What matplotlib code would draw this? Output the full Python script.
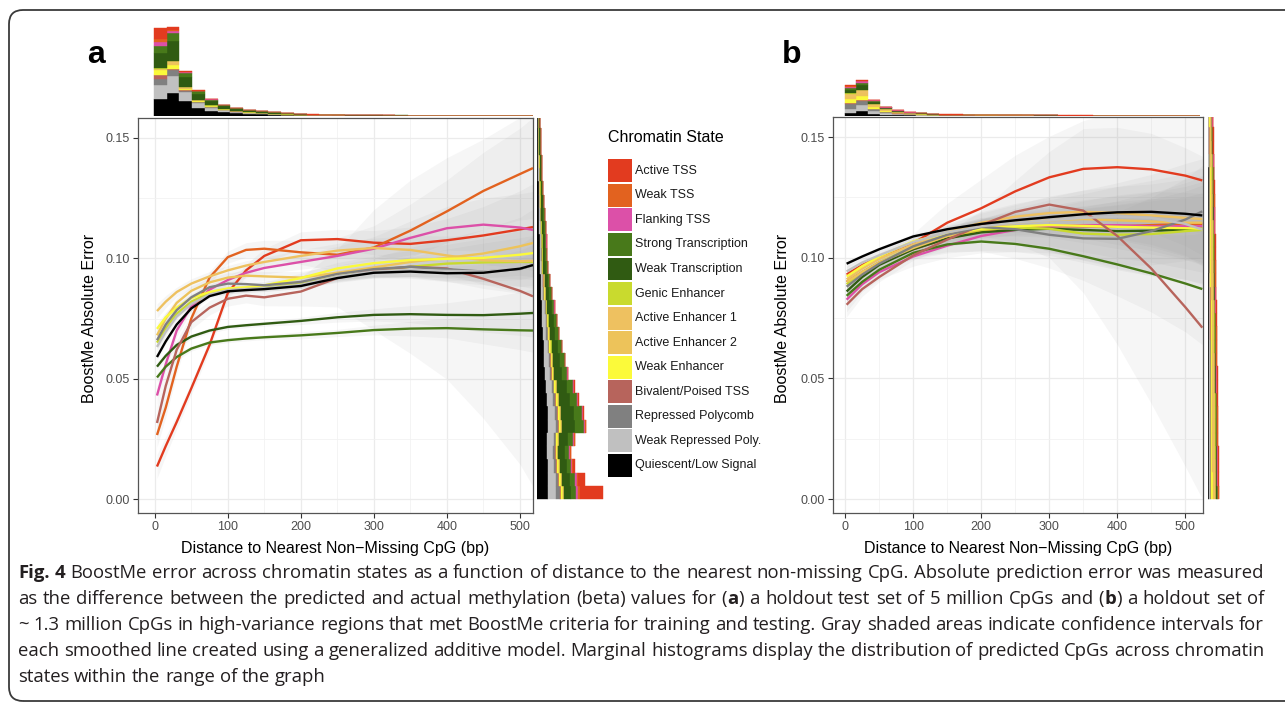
import re
import numpy as np
import matplotlib
matplotlib.use("Agg")
import matplotlib.pyplot as plt
from matplotlib.patches import Rectangle, FancyBboxPatch
from matplotlib.transforms import IdentityTransform
from matplotlib.ticker import FormatStrFormatter

plt.rcParams['font.family'] = ['Liberation Sans', 'DejaVu Sans']

W, H = 1285, 708

# chromatin states, legend order
states = ["Active TSS", "Weak TSS", "Flanking TSS", "Strong Transcription",
          "Weak Transcription", "Genic Enhancer", "Active Enhancer 1",
          "Active Enhancer 2", "Weak Enhancer", "Bivalent/Poised TSS",
          "Repressed Polycomb", "Weak Repressed Poly.", "Quiescent/Low Signal"]
state_colors = ["#E23B1F", "#E2621F", "#DC50A8", "#48791A", "#305B12", "#C9DA2E",
                "#EEC160", "#EDC35A", "#FBFA3A", "#B7645C", "#808080", "#C0C0C0",
                "#000000"]

# ---- panel a: smoothed error curves (rows in legend order) ----
dist_a = [3, 15, 30, 50, 75, 100, 125, 150, 200, 250, 300, 350, 400, 450, 500, 518]
err_a = np.array([
    [0.0135, 0.022, 0.032, 0.046, 0.064, 0.0856, 0.095, 0.101, 0.1075, 0.108, 0.1065, 0.106, 0.1075, 0.1095, 0.112, 0.113],
    [0.0266, 0.038, 0.055, 0.075, 0.092, 0.1005, 0.1035, 0.104, 0.1025, 0.1015, 0.1045, 0.1115, 0.1195, 0.128, 0.135, 0.1375],
    [0.043, 0.056, 0.070, 0.080, 0.087, 0.091, 0.094, 0.096, 0.0985, 0.101, 0.104, 0.1085, 0.1125, 0.114, 0.1128, 0.1118],
    [0.0505, 0.055, 0.059, 0.0625, 0.065, 0.066, 0.0667, 0.0672, 0.068, 0.069, 0.0702, 0.0708, 0.071, 0.0705, 0.0701, 0.070],
    [0.055, 0.0595, 0.064, 0.0675, 0.070, 0.0715, 0.0722, 0.0728, 0.074, 0.0755, 0.0765, 0.0768, 0.0765, 0.0764, 0.077, 0.0773],
    [0.065, 0.071, 0.077, 0.082, 0.0855, 0.0868, 0.0874, 0.0878, 0.0895, 0.0925, 0.0948, 0.0965, 0.0978, 0.0983, 0.0985, 0.0985],
    [0.0781, 0.082, 0.086, 0.0895, 0.0925, 0.095, 0.097, 0.0985, 0.101, 0.1032, 0.1043, 0.1035, 0.1012, 0.0992, 0.0988, 0.099],
    [0.068, 0.075, 0.0815, 0.0865, 0.090, 0.092, 0.0928, 0.0925, 0.092, 0.094, 0.0962, 0.0985, 0.1002, 0.102, 0.105, 0.1064],
    [0.0707, 0.0755, 0.0795, 0.0835, 0.086, 0.0875, 0.088, 0.0888, 0.0918, 0.0958, 0.098, 0.0993, 0.0998, 0.1002, 0.1015, 0.1022],
    [0.0316, 0.047, 0.062, 0.0735, 0.0795, 0.0832, 0.0845, 0.0838, 0.0862, 0.0918, 0.0952, 0.0965, 0.0958, 0.0915, 0.0865, 0.0842],
    [0.066, 0.0725, 0.0785, 0.0838, 0.088, 0.0895, 0.0893, 0.0888, 0.0902, 0.0935, 0.0955, 0.0965, 0.0955, 0.0945, 0.0955, 0.0972],
    [0.0632, 0.0695, 0.0758, 0.081, 0.085, 0.0868, 0.0873, 0.0876, 0.089, 0.0925, 0.0945, 0.0952, 0.0948, 0.0945, 0.0958, 0.0972],
    [0.059, 0.0655, 0.0725, 0.0792, 0.0843, 0.0863, 0.0868, 0.0872, 0.0885, 0.0918, 0.094, 0.0945, 0.0938, 0.094, 0.0957, 0.0972],
])
# confidence band half widths
ci_a = np.array([
    [0.005, 0.004, 0.003, 0.0025, 0.0025, 0.0025, 0.0025, 0.003, 0.0035, 0.004, 0.005, 0.007, 0.009, 0.012, 0.016, 0.018],
    [0.005, 0.004, 0.003, 0.0025, 0.0025, 0.0025, 0.003, 0.0035, 0.005, 0.007, 0.009, 0.011, 0.013, 0.016, 0.019, 0.021],
    [0.004, 0.003, 0.0025, 0.002, 0.002, 0.002, 0.002, 0.0025, 0.003, 0.004, 0.005, 0.007, 0.009, 0.011, 0.014, 0.016],
    [0.002, 0.0015, 0.0015, 0.001, 0.001, 0.001, 0.001, 0.001, 0.0015, 0.0015, 0.002, 0.003, 0.004, 0.006, 0.008, 0.009],
    [0.002, 0.0015, 0.0015, 0.001, 0.001, 0.001, 0.001, 0.001, 0.0015, 0.002, 0.0025, 0.0035, 0.005, 0.007, 0.009, 0.010],
    [0.003, 0.0025, 0.002, 0.0015, 0.0015, 0.0015, 0.0015, 0.0015, 0.002, 0.0025, 0.003, 0.004, 0.006, 0.008, 0.010, 0.011],
    [0.003, 0.0025, 0.002, 0.002, 0.002, 0.002, 0.002, 0.002, 0.0025, 0.003, 0.004, 0.006, 0.008, 0.010, 0.013, 0.015],
    [0.003, 0.0025, 0.002, 0.002, 0.002, 0.002, 0.002, 0.002, 0.0025, 0.003, 0.004, 0.006, 0.008, 0.010, 0.012, 0.014],
    [0.0025, 0.002, 0.0015, 0.0015, 0.0015, 0.0015, 0.0015, 0.0015, 0.002, 0.0025, 0.003, 0.004, 0.006, 0.008, 0.010, 0.011],
    [0.007, 0.005, 0.004, 0.003, 0.003, 0.003, 0.003, 0.0035, 0.006, 0.012, 0.025, 0.036, 0.046, 0.058, 0.072, 0.079],
    [0.003, 0.0025, 0.002, 0.0015, 0.0015, 0.0015, 0.0015, 0.0015, 0.002, 0.0025, 0.003, 0.004, 0.005, 0.007, 0.010, 0.012],
    [0.0025, 0.002, 0.0015, 0.001, 0.001, 0.001, 0.001, 0.001, 0.0015, 0.002, 0.0025, 0.0035, 0.0045, 0.0055, 0.0075, 0.0085],
    [0.0015, 0.001, 0.001, 0.001, 0.001, 0.001, 0.001, 0.001, 0.001, 0.0015, 0.002, 0.0025, 0.003, 0.0035, 0.0045, 0.005],
])

# ---- panel b ----
dist_b = [2, 25, 50, 100, 150, 200, 250, 300, 350, 400, 450, 500, 525]
err_b = np.array([
    [0.093, 0.097, 0.1005, 0.106, 0.1145, 0.1205, 0.1275, 0.1333, 0.1368, 0.1375, 0.1366, 0.134, 0.132],
    [0.090, 0.094, 0.098, 0.1035, 0.108, 0.111, 0.1125, 0.113, 0.113, 0.113, 0.1135, 0.114, 0.114],
    [0.0826, 0.089, 0.094, 0.1005, 0.105, 0.109, 0.1115, 0.113, 0.1135, 0.1135, 0.113, 0.113, 0.113],
    [0.0842, 0.090, 0.095, 0.102, 0.1055, 0.1067, 0.1057, 0.1037, 0.1006, 0.0972, 0.0935, 0.0893, 0.087],
    [0.086, 0.092, 0.097, 0.1035, 0.108, 0.1105, 0.1115, 0.112, 0.1115, 0.111, 0.1112, 0.1115, 0.112],
    [0.089, 0.094, 0.098, 0.1045, 0.109, 0.1115, 0.1125, 0.112, 0.110, 0.1095, 0.1098, 0.111, 0.1115],
    [0.091, 0.0955, 0.0995, 0.1055, 0.1105, 0.1145, 0.117, 0.1185, 0.119, 0.1185, 0.1175, 0.1165, 0.116],
    [0.090, 0.094, 0.098, 0.104, 0.109, 0.112, 0.1145, 0.1155, 0.116, 0.1155, 0.115, 0.1145, 0.1145],
    [0.0922, 0.0965, 0.1005, 0.1068, 0.110, 0.112, 0.113, 0.1135, 0.1132, 0.1128, 0.1125, 0.1122, 0.112],
    [0.0805, 0.087, 0.092, 0.101, 0.1075, 0.1135, 0.119, 0.122, 0.1195, 0.109, 0.0955, 0.0795, 0.071],
    [0.088, 0.093, 0.0975, 0.1047, 0.1095, 0.1127, 0.1118, 0.1095, 0.108, 0.1078, 0.111, 0.1158, 0.1192],
    [0.0943, 0.098, 0.101, 0.1065, 0.1105, 0.113, 0.1145, 0.1155, 0.1165, 0.117, 0.1165, 0.114, 0.1116],
    [0.0975, 0.1005, 0.1035, 0.1088, 0.1118, 0.114, 0.1155, 0.1168, 0.118, 0.1188, 0.119, 0.1182, 0.1175],
])
ci_b = np.array([
    [0.005, 0.003, 0.003, 0.004, 0.008, 0.012, 0.015, 0.017, 0.020, 0.023, 0.026, 0.029, 0.031],
    [0.005, 0.003, 0.003, 0.004, 0.006, 0.008, 0.010, 0.012, 0.015, 0.018, 0.021, 0.025, 0.027],
    [0.005, 0.003, 0.003, 0.004, 0.005, 0.007, 0.009, 0.011, 0.013, 0.016, 0.019, 0.022, 0.024],
    [0.003, 0.002, 0.002, 0.002, 0.003, 0.004, 0.006, 0.008, 0.010, 0.013, 0.016, 0.020, 0.023],
    [0.003, 0.002, 0.002, 0.002, 0.003, 0.004, 0.005, 0.007, 0.009, 0.011, 0.013, 0.016, 0.018],
    [0.004, 0.003, 0.002, 0.003, 0.004, 0.005, 0.007, 0.009, 0.011, 0.014, 0.017, 0.020, 0.022],
    [0.003, 0.002, 0.002, 0.002, 0.003, 0.004, 0.005, 0.007, 0.009, 0.011, 0.013, 0.016, 0.018],
    [0.003, 0.002, 0.002, 0.002, 0.003, 0.004, 0.005, 0.006, 0.008, 0.010, 0.012, 0.015, 0.017],
    [0.002, 0.0015, 0.0015, 0.002, 0.002, 0.003, 0.004, 0.005, 0.007, 0.009, 0.011, 0.013, 0.015],
    [0.005, 0.003, 0.002, 0.002, 0.003, 0.006, 0.013, 0.022, 0.034, 0.045, 0.056, 0.066, 0.071],
    [0.003, 0.002, 0.002, 0.002, 0.003, 0.004, 0.005, 0.007, 0.009, 0.011, 0.014, 0.017, 0.019],
    [0.002, 0.0015, 0.0015, 0.0015, 0.002, 0.003, 0.004, 0.005, 0.007, 0.009, 0.011, 0.013, 0.015],
    [0.0015, 0.001, 0.001, 0.001, 0.0015, 0.002, 0.0025, 0.003, 0.0035, 0.0045, 0.0055, 0.0065, 0.0075],
])

# ---- marginal histograms: one row per bin, columns in stacking order
# (Quiescent at the bottom ... Active TSS on top) ----
top_a = [
    [17.3, 13.3, 6.7, 4.0, 4.3, 1.0, 0.7, 0.3, 15.0, 7.3, 4.0, 3.3, 10.3],
    [23.3, 16.7, 6.3, 1.0, 3.7, 2.0, 2.0, 0.3, 19.3, 8.3, 2.3, 1.0, 2.8],
    [15.0, 9.0, 1.2, 0.5, 1.8, 0.8, 0.8, 0.2, 9.5, 4.5, 0.4, 0.3, 0.7],
    [8.3, 4.7, 0.8, 0.3, 1.2, 0.5, 0.5, 0.1, 5.6, 2.8, 0.3, 0.2, 0.4],
    [5.2, 3.0, 0.6, 0.2, 0.9, 0.3, 0.3, 0.1, 4.0, 1.8, 0.2, 0.1, 0.3],
    [3.6, 2.0, 0.4, 0.1, 0.6, 0.2, 0.2, 0.1, 2.6, 1.2, 0.1, 0.1, 0.2],
    [2.7, 1.5, 0.3, 0.1, 0.4, 0.15, 0.15, 0.05, 1.9, 0.85, 0.1, 0.05, 0.15],
    [2.1, 1.1, 0.25, 0.05, 0.3, 0.1, 0.1, 0.05, 1.45, 0.65, 0.1, 0.05, 0.1],
    [1.6, 0.9, 0.2, 0.05, 0.25, 0.08, 0.08, 0.04, 1.1, 0.5, 0.07, 0.05, 0.08],
    [1.2, 0.66, 0.15, 0.04, 0.18, 0.06, 0.06, 0.03, 0.8, 0.37, 0.05, 0.04, 0.06],
    [0.88, 0.48, 0.11, 0.03, 0.13, 0.04, 0.04, 0.02, 0.59, 0.27, 0.04, 0.03, 0.04],
    [0.65, 0.36, 0.08, 0.02, 0.1, 0.03, 0.03, 0.01, 0.44, 0.2, 0.03, 0.02, 0.03],
    [0.49, 0.27, 0.06, 0.02, 0.07, 0.02, 0.02, 0.01, 0.33, 0.15, 0.02, 0.02, 0.02],
    [0.39, 0.22, 0.05, 0.01, 0.06, 0.02, 0.02, 0.01, 0.26, 0.12, 0.02, 0.01, 0.01],
    [0.32, 0.18, 0.04, 0.01, 0.05, 0.02, 0.02, 0.01, 0.22, 0.1, 0.01, 0.01, 0.01],
    [0.26, 0.15, 0.03, 0, 0.04, 0, 0, 0, 0.22, 0.1, 0, 0, 0],
    [0.23, 0.13, 0.03, 0, 0.03, 0, 0, 0, 0.19, 0.09, 0, 0, 0],
    [0.2, 0.11, 0.02, 0, 0.03, 0, 0, 0, 0.16, 0.08, 0, 0, 0],
    [0.18, 0.1, 0.02, 0, 0.03, 0, 0, 0, 0.15, 0.07, 0, 0, 0],
    [0.16, 0.09, 0.02, 0, 0.03, 0, 0, 0, 0.14, 0.06, 0, 0, 0],
    [0.15, 0.08, 0.02, 0, 0.02, 0, 0, 0, 0.12, 0.06, 0, 0, 0],
    [0.13, 0.07, 0.02, 0, 0.02, 0, 0, 0, 0.11, 0.05, 0, 0, 0],
    [0.13, 0.07, 0.02, 0, 0.02, 0, 0, 0, 0.11, 0.05, 0, 0, 0],
    [0.11, 0.06, 0.02, 0, 0.02, 0, 0, 0, 0.1, 0.04, 0, 0, 0],
    [0.11, 0.06, 0.02, 0, 0.02, 0, 0, 0, 0.1, 0.04, 0, 0, 0],
    [0.1, 0.05, 0.01, 0, 0.02, 0, 0, 0, 0.08, 0.04, 0, 0, 0],
    [0.1, 0.05, 0.01, 0, 0.02, 0, 0, 0, 0.08, 0.04, 0, 0, 0],
    [0.1, 0.05, 0.01, 0, 0.02, 0, 0, 0, 0.08, 0.04, 0, 0, 0],
    [0.1, 0.05, 0.01, 0, 0.02, 0, 0, 0, 0.08, 0.04, 0, 0, 0],
    [0.1, 0.05, 0.01, 0, 0.02, 0, 0, 0, 0.08, 0.04, 0, 0, 0],
]
right_a = [
    [11, 8.3, 3.3, 1, 2, 0.5, 0.5, 0.3, 7, 5, 1.7, 2, 23.4],
    [11, 7.5, 2.5, 1, 2, 0.5, 0.5, 0.3, 8, 5, 1.5, 1.5, 6.4],
    [10.5, 6.5, 2, 0.8, 1.8, 0.5, 0.5, 0.3, 7, 4.5, 1, 1, 1.9],
    [10, 6, 1.8, 0.7, 1.6, 0.5, 0.5, 0.3, 6.5, 4.4, 0.8, 0.6, 0.6],
    [10, 6.5, 2, 0.7, 1.7, 0.5, 0.5, 0.3, 8.5, 5.5, 0.8, 0.5, 0.5],
    [11, 7.5, 2.5, 0.8, 2, 0.6, 0.6, 0.4, 13, 9, 0.8, 0.5, 0.6],
    [10.5, 7, 2.4, 0.8, 2, 0.6, 0.6, 0.4, 12.5, 8.5, 0.7, 0.4, 0.6],
    [9.8, 6.3, 2.2, 0.7, 1.8, 0.5, 0.5, 0.4, 11, 7.2, 0.6, 0.4, 0.6],
    [9, 5.7, 2, 0.6, 1.6, 0.5, 0.5, 0.3, 9.8, 6.3, 0.6, 0.4, 0.4],
    [7.8, 4.8, 1.7, 0.5, 1.4, 0.4, 0.4, 0.3, 7.8, 5, 0.4, 0.3, 0.2],
    [7.2, 4.4, 1.5, 0.5, 1.3, 0.4, 0.4, 0.3, 7, 4.5, 0.4, 0.2, 0.2],
    [6.6, 4, 1.4, 0.4, 1.2, 0.35, 0.35, 0.25, 6.2, 3.9, 0.3, 0.2, 0.15],
    [5.8, 3.5, 1.2, 0.35, 1.05, 0.3, 0.3, 0.2, 5.4, 3.4, 0.25, 0.15, 0.1],
    [5.3, 3.2, 1.1, 0.3, 0.95, 0.28, 0.28, 0.19, 4.9, 3.1, 0.2, 0.1, 0.1],
    [4.7, 2.85, 0.97, 0.27, 0.84, 0.25, 0.25, 0.17, 4.3, 2.75, 0.18, 0.1, 0.07],
    [4.0, 2.4, 0.8, 0.22, 0.7, 0.21, 0.21, 0.15, 3.7, 2.3, 0.15, 0.08, 0.08],
    [3.5, 2.1, 0.73, 0.2, 0.63, 0.19, 0.19, 0.13, 3.3, 2.05, 0.13, 0.07, 0.08],
    [2.9, 1.75, 0.6, 0.17, 0.52, 0.15, 0.15, 0.11, 2.7, 1.7, 0.11, 0.07, 0.07],
    [2.7, 1.65, 0.57, 0.15, 0.48, 0.14, 0.14, 0.1, 2.55, 1.6, 0.1, 0.06, 0.06],
    [2.55, 1.55, 0.53, 0.15, 0.45, 0.13, 0.13, 0.1, 2.4, 1.5, 0.09, 0.06, 0.06],
    [2.3, 1.4, 0.48, 0.13, 0.4, 0.12, 0.12, 0.09, 2.15, 1.35, 0.08, 0.04, 0.04],
    [2.05, 1.25, 0.42, 0.12, 0.36, 0.1, 0.1, 0.08, 1.9, 1.2, 0.06, 0.03, 0.03],
    [1.8, 1.1, 0.37, 0.1, 0.31, 0.09, 0.09, 0.07, 1.65, 1.02, 0.05, 0.03, 0.02],
    [1.6, 0.98, 0.33, 0.09, 0.28, 0.08, 0.08, 0.06, 1.48, 0.93, 0.05, 0.02, 0.02],
    [1.42, 0.86, 0.29, 0.08, 0.25, 0.07, 0.07, 0.05, 1.3, 0.83, 0.04, 0.02, 0.02],
    [1.26, 0.76, 0.26, 0.07, 0.22, 0.06, 0.06, 0.05, 1.15, 0.73, 0.04, 0.02, 0.02],
    [1.07, 0.65, 0.22, 0.06, 0.19, 0.05, 0.05, 0.04, 0.98, 0.62, 0.03, 0.02, 0.02],
    [0.99, 0.6, 0.2, 0.06, 0.17, 0.05, 0.05, 0.04, 0.9, 0.58, 0.03, 0.02, 0.01],
    [0.88, 0.53, 0.18, 0.05, 0.16, 0.04, 0.04, 0.03, 0.81, 0.52, 0.03, 0.02, 0.01],
]
top_b = [
    [3.0, 4.3, 5.0, 1.0, 3.3, 2.8, 2.9, 0.5, 2.7, 2.2, 1.0, 0.8, 1.2],
    [5.0, 5.7, 4.3, 0.8, 4.0, 3.0, 3.0, 0.5, 4.5, 2.5, 1.4, 0.4, 0.6],
    [2.3, 2.6, 2.1, 0.4, 1.9, 1.3, 1.3, 0.3, 2.0, 1.2, 0.4, 0.2, 0.3],
    [1.3, 1.45, 1.15, 0.2, 1.05, 0.72, 0.72, 0.15, 1.1, 0.66, 0.22, 0.11, 0.17],
    [0.82, 0.92, 0.73, 0.13, 0.66, 0.46, 0.46, 0.1, 0.7, 0.42, 0.14, 0.06, 0.1],
    [0.53, 0.6, 0.47, 0.08, 0.43, 0.3, 0.3, 0.06, 0.45, 0.27, 0.09, 0.05, 0.07],
    [0.43, 0.49, 0.38, 0.07, 0.35, 0.24, 0.24, 0.05, 0.36, 0.22, 0.07, 0.04, 0.06],
    [0.29, 0.32, 0.26, 0.04, 0.23, 0.16, 0.16, 0.03, 0.24, 0.15, 0.05, 0.03, 0.04],
    [0.21, 0.24, 0.2, 0.03, 0.18, 0.12, 0.12, 0.02, 0.18, 0.11, 0.04, 0.02, 0.03],
    [0.21, 0.24, 0.2, 0.03, 0.18, 0.12, 0.12, 0.02, 0.18, 0.11, 0.04, 0.02, 0.03],
    [0.17, 0.19, 0.16, 0.02, 0.14, 0.1, 0.1, 0.02, 0.14, 0.09, 0.03, 0.02, 0.02],
    [0.14, 0.16, 0.13, 0.02, 0.12, 0.08, 0.08, 0.01, 0.12, 0.07, 0.03, 0.02, 0.02],
    [0.14, 0.16, 0.13, 0.02, 0.12, 0.08, 0.08, 0.01, 0.12, 0.07, 0.03, 0.02, 0.02],
    [0.11, 0.13, 0.1, 0.02, 0.1, 0.06, 0.06, 0.01, 0.1, 0.06, 0.02, 0.01, 0.02],
    [0.11, 0.13, 0.1, 0.02, 0.1, 0.06, 0.06, 0.01, 0.1, 0.06, 0.02, 0.01, 0.02],
    [0.1, 0.11, 0.09, 0.01, 0.09, 0.06, 0.06, 0.01, 0.08, 0.05, 0.02, 0.01, 0.01],
    [0.08, 0.1, 0.08, 0.01, 0.07, 0.05, 0.05, 0.01, 0.07, 0.04, 0.02, 0.01, 0.01],
    [0.08, 0.1, 0.08, 0.01, 0.07, 0.05, 0.05, 0.01, 0.07, 0.04, 0.02, 0.01, 0.01],
    [0.07, 0.08, 0.07, 0.01, 0.06, 0.04, 0.04, 0.01, 0.06, 0.03, 0.01, 0.01, 0.01],
    [0.07, 0.08, 0.07, 0.01, 0.06, 0.04, 0.04, 0.01, 0.06, 0.03, 0.01, 0.01, 0.01],
    [0.07, 0.08, 0.07, 0.01, 0.06, 0.04, 0.04, 0.01, 0.06, 0.03, 0.01, 0.01, 0.01],
    [0.06, 0.06, 0.05, 0.01, 0.05, 0.03, 0.03, 0.01, 0.05, 0.03, 0.01, 0, 0.01],
    [0.06, 0.06, 0.05, 0.01, 0.05, 0.03, 0.03, 0.01, 0.05, 0.03, 0.01, 0, 0.01],
    [0.06, 0.06, 0.05, 0.01, 0.05, 0.03, 0.03, 0.01, 0.05, 0.03, 0.01, 0, 0.01],
    [0.06, 0.06, 0.05, 0.01, 0.05, 0.03, 0.03, 0.01, 0.05, 0.03, 0.01, 0, 0.01],
    [0.04, 0.05, 0.04, 0.01, 0.04, 0.02, 0.02, 0, 0.04, 0.02, 0.01, 0, 0.01],
    [0.04, 0.05, 0.04, 0.01, 0.04, 0.02, 0.02, 0, 0.04, 0.02, 0.01, 0, 0.01],
    [0.04, 0.05, 0.04, 0.01, 0.04, 0.02, 0.02, 0, 0.04, 0.02, 0.01, 0, 0.01],
    [0.04, 0.05, 0.04, 0.01, 0.04, 0.02, 0.02, 0, 0.04, 0.02, 0.01, 0, 0.01],
    [0.04, 0.05, 0.04, 0.01, 0.04, 0.02, 0.02, 0, 0.04, 0.02, 0.01, 0, 0.01],
]
# panel b right margin: bar totals per error bin and the share of each state
right_b_total = [11.6, 11.4, 11.3, 11.1, 10.9, 10.8, 10.6, 10.4, 10.2, 10.0, 9.8, 9.7,
                 9.5, 9.3, 9.1, 8.9, 8.7, 8.5, 8.3, 8.1, 7.9, 7.7, 7.4, 7.2, 6.9, 6.6,
                 6.3, 6.0, 5.7]
right_b_share = [0.15, 0.08, 0.08, 0.03, 0.10, 0.14, 0.14, 0.05, 0.05, 0.05, 0.04, 0.04, 0.05]

dist_bin_left = np.arange(30) * 17.4 - 1
dist_bin_w = 17.4
err_bin_low = np.arange(29) * 0.0055
err_bin_h = 0.0055

caption = [
    "**Fig.** **4** BoostMe error across chromatin states as a function of distance to the nearest non-missing CpG. Absolute prediction error was measured",
    "as the difference between the predicted and actual methylation (beta) values for (**a**) a holdout test set of 5 million CpGs and (**b**) a holdout set of",
    "~ 1.3 million CpGs in high-variance regions that met BoostMe criteria for training and testing. Gray shaded areas indicate confidence intervals for",
    "each smoothed line created using a generalized additive model. Marginal histograms display the distribution of predicted CpGs across chromatin",
    "states within the range of the graph",
]

stack_colors = state_colors[::-1]
YLIM = (-0.0058, 0.1583)

fig = plt.figure(figsize=(W / 100, H / 100), dpi=100)


def px_axes(left, top, right, bottom):
    return fig.add_axes([left / W, 1 - bottom / H, (right - left) / W, (bottom - top) / H])


def fx(x):
    return x / W


def fy(y):
    return 1 - y / H


def draw_main(ax, dist, err, ci, xlim):
    for i in range(len(states)):
        ax.fill_between(dist, err[i] - ci[i], err[i] + ci[i], color='#9A9A9A',
                        alpha=0.085, lw=0, zorder=1)
    for i in range(len(states)):
        ax.plot(dist, err[i], color=state_colors[i], lw=1.7, zorder=2 + i,
                solid_capstyle='butt', solid_joinstyle='round')
    ax.set_xlim(*xlim)
    ax.set_ylim(*YLIM)
    ax.set_xticks([0, 100, 200, 300, 400, 500])
    ax.set_xticks([50, 150, 250, 350, 450], minor=True)
    ax.set_yticks([0, 0.05, 0.10, 0.15])
    ax.set_yticks([0.025, 0.075, 0.125], minor=True)
    ax.yaxis.set_major_formatter(FormatStrFormatter('%.2f'))
    ax.grid(which='major', color='#EBEBEB', lw=0.9)
    ax.grid(which='minor', color='#F2F2F2', lw=0.6)
    ax.set_axisbelow(True)
    ax.tick_params(which='major', length=3.5, width=0.8, color='#333333',
                   labelcolor='#4D4D4D', labelsize=9, pad=2.5)
    ax.tick_params(which='minor', length=0)
    for s in ax.spines.values():
        s.set_color('#555555')
        s.set_linewidth(0.9)


def draw_top(ax, rows, xlim, ymax):
    rows = np.array(rows)
    bottom = np.zeros(len(rows))
    for j in range(rows.shape[1]):
        ax.bar(dist_bin_left[:len(rows)], rows[:, j], width=dist_bin_w, bottom=bottom,
               align='edge', color=stack_colors[j], ec=stack_colors[j], lw=0.3)
        bottom += rows[:, j]
    ax.set_xlim(*xlim)
    ax.set_ylim(0, ymax)
    ax.axis('off')


def draw_right(ax, rows, xmax):
    rows = np.array(rows)
    left = np.zeros(len(rows))
    for j in range(rows.shape[1]):
        ax.barh(err_bin_low[:len(rows)], rows[:, j], height=err_bin_h, left=left,
                align='edge', color=stack_colors[j], ec=stack_colors[j], lw=0.3)
        left += rows[:, j]
    ax.set_ylim(*YLIM)
    ax.set_xlim(0, xmax)
    ax.axis('off')


# panel a
ax_a = px_axes(138, 118, 533, 513)
draw_main(ax_a, dist_a, err_a, ci_a, (-23, 518))
draw_top(px_axes(138, 26, 533, 116), top_a, (-23, 518), 90)
draw_right(px_axes(537, 118, 607, 513), right_a, 70)

# panel b
ax_b = px_axes(833, 117, 1203, 513)
draw_main(ax_b, dist_b, err_b, ci_b, (-18, 526))
draw_top(px_axes(833, 79, 1203, 116), top_b, (-18, 526), 37)
right_b = np.outer(right_b_total, right_b_share)
draw_right(px_axes(1207.5, 117, 1221, 513), right_b, 13.5)

xlab = "Distance to Nearest Non\u2212Missing CpG (bp)"
ylab = "BoostMe Absolute Error"
fig.text(fx(335.5), fy(549), xlab, ha='center', va='center', fontsize=11.5)
fig.text(fx(1018), fy(549), xlab, ha='center', va='center', fontsize=11.5)
fig.text(fx(90), fy(318), ylab, ha='center', va='center', rotation=90, fontsize=11.5)
fig.text(fx(783), fy(318), ylab, ha='center', va='center', rotation=90, fontsize=11.5)

fig.text(fx(87), fy(63), "a", fontsize=23, fontweight='bold', va='baseline')
fig.text(fx(782), fy(63), "b", fontsize=23, fontweight='bold', va='baseline')

# legend
fig.text(fx(608), fy(138), "Chromatin State", fontsize=11.5, va='center', ha='left')
for i, (st, c) in enumerate(zip(states, state_colors)):
    top = 159.3 + i * 24.55
    fig.add_artist(Rectangle((fx(607.5), fy(top + 23)), 24 / W, 23 / H,
                             transform=fig.transFigure, facecolor=c, edgecolor='none'))
    fig.text(fx(635), fy(top + 11.5), st, fontsize=9, va='center', ha='left',
             color='#1A1A1A')

# outer frame
fig.add_artist(FancyBboxPatch((9, 7), 1320, 691,
                              boxstyle='round,pad=0,rounding_size=14',
                              transform=IdentityTransform(), fill=False,
                              ec='#3A3A3A', lw=1.3))

# caption, justified
renderer = fig.canvas.get_renderer()
cap_font = ['Open Sans', 'DejaVu Sans']
cap_left, cap_right = 18, 1264
cap_base = [578.3, 604.1, 629.9, 655.7, 681.5]


def parse(line):
    words = []
    for w in line.split(' '):
        segs = []
        for part in re.split(r'(\*\*.+?\*\*)', w):
            if not part:
                continue
            if part.startswith('**'):
                segs.append((part[2:-2], True))
            else:
                segs.append((part, False))
        words.append(segs)
    return words


def seg_width(s, bold, size):
    t = fig.text(0, 0, s, fontsize=size, family=cap_font,
                 fontweight='bold' if bold else 'normal')
    w = t.get_window_extent(renderer).width
    t.remove()
    return w


def word_width(segs, size):
    return sum(seg_width(s, b, size) for s, b in segs)


parsed = [parse(l) for l in caption]
base = 14.5
space = seg_width("n n", False, base) - seg_width("nn", False, base)
natural = [sum(word_width(ws, base) for ws in p) + (len(p) - 1) * space for p in parsed[:-1]]
size = base * min(1.0, (cap_right - cap_left) / max(natural))
space = seg_width("n n", False, size) - seg_width("nn", False, size)

for k, p in enumerate(parsed):
    widths = [word_width(ws, size) for ws in p]
    if k < len(parsed) - 1:
        gap = (cap_right - cap_left - sum(widths)) / (len(p) - 1)
    else:
        gap = space
    x = cap_left
    for ws, ww in zip(p, widths):
        xx = x
        for s, b in ws:
            fig.text(fx(xx), fy(cap_base[k]), s, fontsize=size, family=cap_font,
                     fontweight='bold' if b else 'normal', va='baseline',
                     color='#231F20')
            xx += seg_width(s, b, size)
        x += ww + gap

fig.savefig('out.png', dpi=100)
